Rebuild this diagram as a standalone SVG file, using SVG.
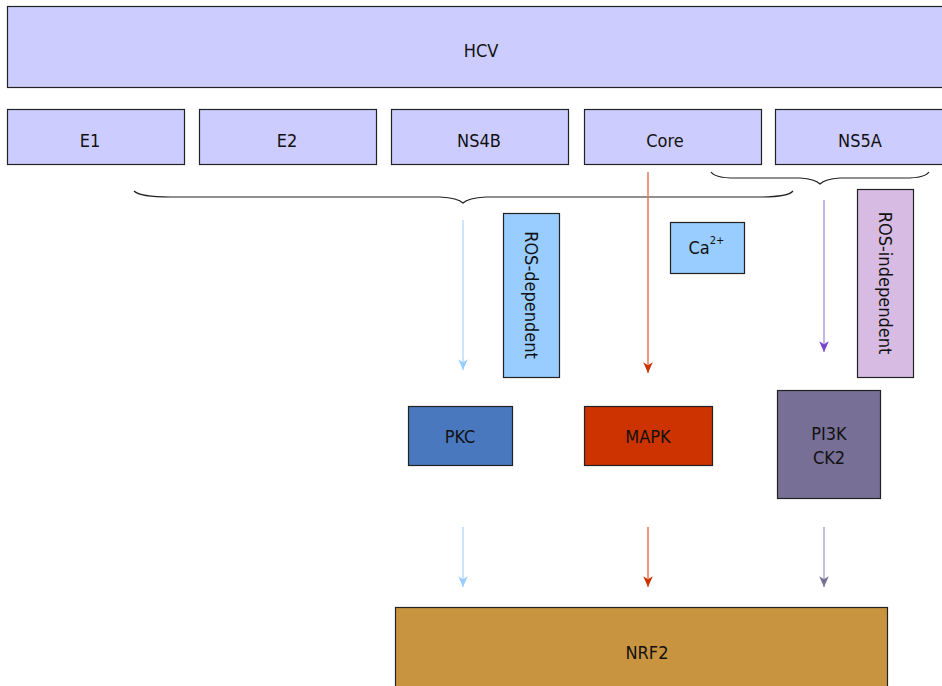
<svg xmlns="http://www.w3.org/2000/svg" width="942" height="686" viewBox="0 0 942 686">
<style>
text{font-family:"DejaVu Sans Condensed","DejaVu Sans",sans-serif;font-size:18px;fill:#111;text-anchor:middle;dominant-baseline:central}
.prot{fill:#ccccff;stroke:#222;stroke-width:1.2}
.box{stroke:#222;stroke-width:1.2}
.brace{fill:none;stroke:#222;stroke-width:1.2}
.conn{fill:none;stroke-width:1.5}
</style>
<defs>
<marker id="hBlue" markerUnits="userSpaceOnUse" markerWidth="12" markerHeight="12" refX="9" refY="5" orient="auto" viewBox="0 0 10 10"><path d="M0,1 L9,5 L0,9 L2.5,5 z" fill="#99ccff"/></marker>
<marker id="hRed" markerUnits="userSpaceOnUse" markerWidth="12" markerHeight="12" refX="9" refY="5" orient="auto" viewBox="0 0 10 10"><path d="M0,1 L9,5 L0,9 L2.5,5 z" fill="#cc3300"/></marker>
<marker id="hPurple" markerUnits="userSpaceOnUse" markerWidth="12" markerHeight="12" refX="9" refY="5" orient="auto" viewBox="0 0 10 10"><path d="M0,1 L9,5 L0,9 L2.5,5 z" fill="#7744cc"/></marker>
<marker id="hGray" markerUnits="userSpaceOnUse" markerWidth="12" markerHeight="12" refX="9" refY="5" orient="auto" viewBox="0 0 10 10"><path d="M0,1 L9,5 L0,9 L2.5,5 z" fill="#776f96"/></marker>
</defs>
<rect width="942" height="686" fill="#fff"/>

<g id="HCV"><rect class="prot" x="7.5" y="6.5" width="940" height="81"/><text x="481" y="50">HCV</text></g>
<g id="E1"><rect class="prot" x="7.5" y="109.5" width="177" height="55"/><text x="90" y="140">E1</text></g>
<g id="E2"><rect class="prot" x="199.5" y="109.5" width="177" height="55"/><text x="287" y="140">E2</text></g>
<g id="NS4B"><rect class="prot" x="391.5" y="109.5" width="177" height="55"/><text x="479" y="140">NS4B</text></g>
<g id="Core"><rect class="prot" x="584.5" y="109.5" width="177" height="55"/><text x="665" y="140">Core</text></g>
<g id="NS5A"><rect class="prot" x="775.5" y="109.5" width="177" height="55"/><text x="860" y="140">NS5A</text></g>

<g id="braces">
<path class="brace" d="M134,191 Q140,197 170,197 L440,197 Q458,198 463,203 Q468,198 486,197 L760,197 Q788,197 793,191"/>
<path class="brace" d="M711,172 Q715,178 735,178 L800,178 Q815,179 820,184 Q825,179 840,178 L905,178 Q925,178 929,172"/>
</g>

<g id="ROS-dependent"><rect class="box" x="503.5" y="213.5" width="56" height="164" fill="#99ccff"/><text transform="translate(531,295) rotate(90)">ROS-dependent</text></g>
<g id="Ca"><rect class="box" x="670.5" y="222.5" width="74" height="51" fill="#99ccff"/><text x="699" y="247">Ca</text><text x="717" y="240" style="font-size:11px">2+</text></g>
<g id="ROS-independent"><rect class="box" x="857.5" y="189.5" width="56" height="188" fill="#d8bbe3"/><text transform="translate(885,283) rotate(90)">ROS-independent</text></g>

<g id="PKC"><rect class="box" x="408.5" y="406.5" width="104" height="59" fill="#4a78be"/><text x="460" y="436">PKC</text></g>
<g id="MAPK"><rect class="box" x="584.5" y="406.5" width="128" height="59" fill="#cc3300"/><text x="648" y="436">MAPK</text></g>
<g id="PI3K"><rect class="box" x="777.5" y="390.5" width="103" height="108" fill="#776f96"/><text x="829" y="433">PI3K</text><text x="829" y="457">CK2</text></g>
<g id="NRF2"><rect class="box" x="395.5" y="607.5" width="492" height="90" fill="#c99440"/><text x="647" y="652">NRF2</text></g>

<g id="connectors">
<line class="conn" x1="463" y1="220" x2="463" y2="370" stroke="#bbddff" marker-end="url(#hBlue)"/>
<line class="conn" x1="648" y1="172" x2="648" y2="373" stroke="#e87a5a" marker-end="url(#hRed)"/>
<line class="conn" x1="824" y1="200" x2="824" y2="352" stroke="#b09ee0" marker-end="url(#hPurple)"/>
<line class="conn" x1="463" y1="527" x2="463" y2="587" stroke="#bbddff" marker-end="url(#hBlue)"/>
<line class="conn" x1="648" y1="527" x2="648" y2="587" stroke="#e87a5a" marker-end="url(#hRed)"/>
<line class="conn" x1="824" y1="527" x2="824" y2="587" stroke="#aaaacc" marker-end="url(#hGray)"/>
</g>
</svg>
